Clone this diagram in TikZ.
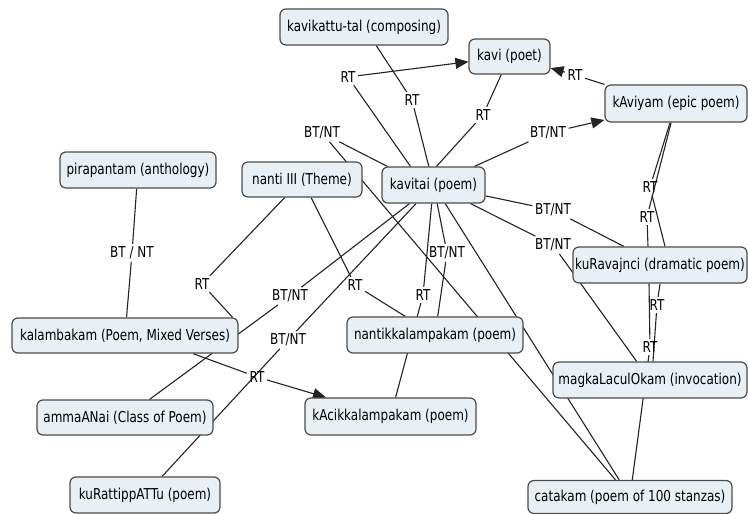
\documentclass[tikz,border=0pt]{standalone}
\usepackage{fontspec}
\setmainfont{DejaVu Sans}[FakeStretch=0.8]
\usetikzlibrary{arrows.meta,backgrounds,calc}
\definecolor{boxfill}{RGB}{233,240,245}
\definecolor{boxline}{RGB}{75,75,75}
\definecolor{edgecol}{RGB}{35,35,35}
\tikzset{
  concept/.style={draw=boxline, line width=1.2pt, fill=boxfill, rounded corners=6pt,
    inner sep=1pt, font=\fontsize{15}{17}\selectfont, anchor=center},
  lab/.style={inner sep=2.5pt, font=\fontsize{15}{17}\selectfont, anchor=center},
  link/.style={draw=edgecol, line width=1.1pt},
  arr/.style={link, -{Triangle[length=13pt,width=11pt]}}
}
\begin{document}
\begin{tikzpicture}[x=1pt,y=-1pt]
\useasboundingbox (0,0) rectangle (748,514);
% concepts
\node[concept, minimum width=168, minimum height=36] (comp) at (364,27) {kavikattu-tal (composing)};
\node[concept, minimum width=81, minimum height=35] (kavi) at (509.5,56.5) {kavi (poet)};
\node[concept, minimum width=142, minimum height=37] (kaviyam) at (676,103.5) {kAviyam (epic poem)};
\node[concept, minimum width=156, minimum height=36] (pira) at (138,170) {pirapantam (anthology)};
\node[concept, minimum width=120, minimum height=35] (nanti) at (302,179.5) {nanti III (Theme)};
\node[concept, minimum width=103, minimum height=36] (kavitai) at (433.5,185) {kavitai (poem)};
\node[concept, minimum width=174, minimum height=36] (kurav) at (660,265) {kuRavajnci (dramatic poem)};
\node[concept, minimum width=226, minimum height=35] (kalam) at (125,335.5) {kalambakam (Poem, Mixed Verses)};
\node[concept, minimum width=176, minimum height=36] (nantik) at (435,335) {nantikkalampakam (poem)};
\node[concept, minimum width=194, minimum height=36] (magka) at (650,380) {magkaLaculOkam (invocation)};
\node[concept, minimum width=176, minimum height=35] (amma) at (125,417.5) {ammaANai (Class of Poem)};
\node[concept, minimum width=171, minimum height=37] (kaci) at (390.5,416.5) {kAcikkalampakam (poem)};
\node[concept, minimum width=150, minimum height=36] (kuratt) at (145,495) {kuRattippATTu (poem)};
\node[concept, minimum width=204, minimum height=33] (catakam) at (630,497) {catakam (poem of 100 stanzas)};
% linking phrases
\node[lab] (l1) at (348,77) {RT};
\node[lab] (l2) at (412,100) {RT};
\node[lab] (l3) at (483,115) {RT};
\node[lab] (l4) at (575,75) {RT};
\node[lab] (l5) at (322,133) {BT/NT};
\node[lab] (l6) at (548,133) {BT/NT};
\node[lab] (l7) at (553,210) {BT/NT};
\node[lab] (l8) at (553,245) {BT/NT};
\node[lab] (l9) at (132,253) {BT / NT};
\node[lab] (l10) at (202,284) {RT};
\node[lab] (l11) at (290,296) {BT/NT};
\node[lab] (l12) at (355,285) {RT};
\node[lab] (l13) at (447,253) {BT/NT};
\node[lab] (l14) at (423,295) {RT};
\node[lab] (l15) at (288,340) {BT/NT};
\node[lab] (l16) at (257,377) {RT};
\node[lab] (lA) at (650,187) {RT};
\node[lab] (lB) at (647,217) {RT};
\node[lab] (lC) at (657,305) {RT};
\node[lab] (lD) at (650,347) {RT};
% connectors
\begin{scope}[on background layer]
\draw[link] ($(kavitai.north)+(-23,0)$) -- (l1); \draw[arr] (l1) -- (kavi);
\draw[link] (comp) -- (l2); \draw[link] (l2) -- (kavitai);
\draw[link] (kavi) -- (l3); \draw[link] (l3) -- ($(kavitai.north)+(3,0)$);
\draw[link] (kaviyam.north west) -- (l4); \draw[arr] (l4) -- (kavi);
\draw[link] ($(kavitai.north west)+(6,0)$) -- (l5); \draw[link] (l5) -- (catakam);
\draw[link] (kavitai) -- (l6); \draw[arr] (l6) -- (kaviyam);
\draw[link] (kavitai) -- (l7); \draw[link] (l7) -- (kurav);
\draw[link] (kavitai) -- (l8); \draw[link] (l8) -- (magka);
\draw[link] (pira) -- (l9); \draw[link] (l9) -- (kalam);
\draw[link] (nanti) -- (l10); \draw[link] (l10) -- ($(kalam.north east)+(-6,0)$);
\draw[link] (kavitai) -- (l11); \draw[link] (l11) -- (amma);
\draw[link] (nanti) -- (l12); \draw[link] (l12) -- (nantik);
\draw[link] (kavitai) -- (l13); \draw[link] (l13) -- (nantik);
\draw[link] (kavitai) -- (l14); \draw[link] (l14) -- (kaci);
\draw[link] (kavitai) -- (l15); \draw[link] (l15) -- (kuratt);
\draw[link] ($(kalam.south)+(68,0)$) -- (l16); \draw[arr] (l16) -- (kaci);
\draw[link] (kavitai) -- (catakam);
\draw[link] (kaviyam) -- (lA); \draw[link] (lA) -- ($(kurav.north)+(5,0)$);
\draw[link] (kaviyam) -- (lB); \draw[link] (lB) -- ($(kurav.north)+(-12,0)$);
\draw[link] ($(kurav.south)+(0,0)$) -- (lC); \draw[link] (lC) -- ($(magka.north)+(3,0)$);
\draw[link] ($(kurav.south)+(-11,0)$) -- (lD); \draw[link] (lD) -- (catakam);
\end{scope}
\end{tikzpicture}
\end{document}
